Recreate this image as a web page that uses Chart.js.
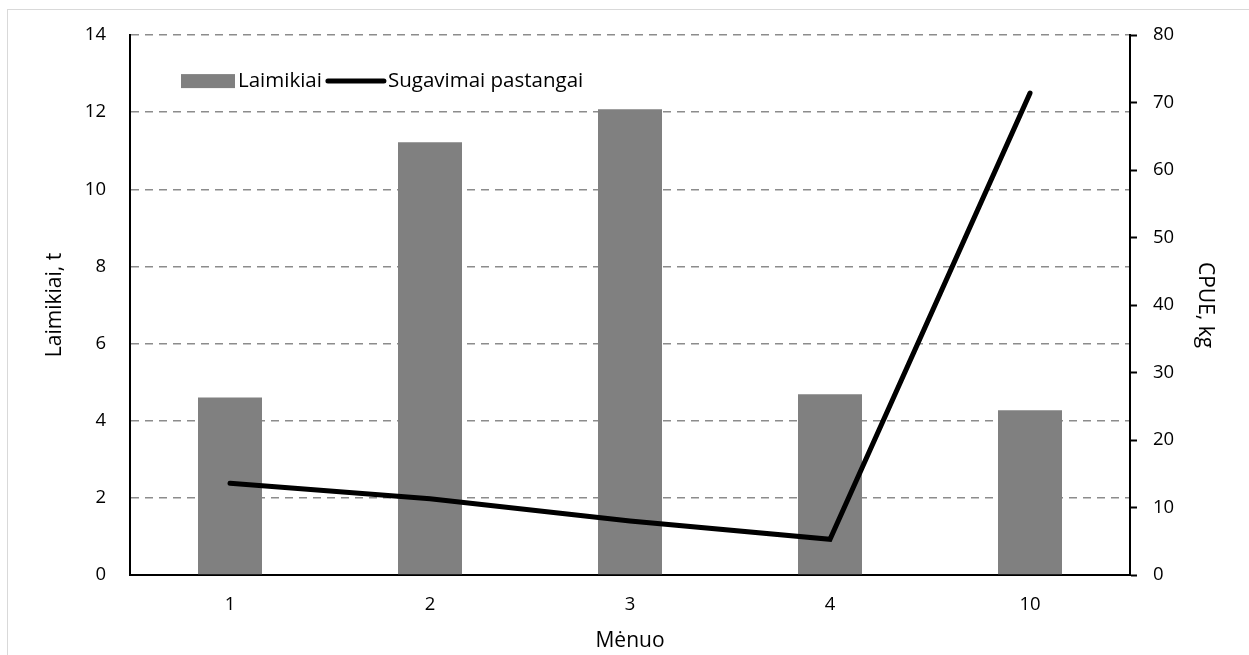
<!DOCTYPE html>
<html>
<head>
<meta charset="utf-8">
<script src="https://cdn.jsdelivr.net/npm/chart.js@4/dist/chart.umd.min.js"></script>
<style>
  html, body { margin: 0; padding: 0; background: #fff; }
  #wrap { width: 1249px; height: 655px; position: relative; }
</style>
</head>
<body>
<div id="wrap"><canvas id="chart"></canvas></div>
<script>
const MONTHS = ['1', '2', '3', '4', '10'];
const CATCHES = [4.6, 11.22, 12.08, 4.69, 4.27];
const CPUE = [13.6, 11.3, 8.0, 5.3, 71.4];
const LEFT_TICKS = [0, 2, 4, 6, 8, 10, 12, 14];
const RIGHT_TICKS = [0, 10, 20, 30, 40, 50, 60, 70, 80];

const FONT = '"Open Sans", "Noto Sans", sans-serif';
const TEXT_COLOR = '#000';
const TICK_SIZE = 18.5;
const TITLE_SIZE = 21;

// frame around the whole chart, and the legend drawn inside the plot area
const framePlugin = {
  id: 'frame',
  beforeDraw(chart) {
    const ctx = chart.ctx;
    ctx.save();
    ctx.strokeStyle = '#d9d9d9';
    ctx.lineWidth = 1;
    ctx.strokeRect(7.5, 9.5, 1300, 700);
    ctx.restore();
  },
  afterDraw(chart) {
    const ctx = chart.ctx;
    const area = chart.chartArea;
    const x0 = area.left + 51;
    const y0 = area.top + 46;
    ctx.save();
    ctx.font = '20.5px ' + FONT;
    ctx.textBaseline = 'middle';
    ctx.fillStyle = '#808080';
    ctx.fillRect(x0, y0 - 7, 54, 14);
    ctx.fillStyle = '#000';
    ctx.fillText('Laimikiai', x0 + 57, y0);
    const w = ctx.measureText('Laimikiai').width;
    const lx = x0 + 57 + w + 6;
    ctx.strokeStyle = '#000';
    ctx.lineWidth = 5;
    ctx.lineCap = 'round';
    ctx.beginPath();
    ctx.moveTo(lx, y0);
    ctx.lineTo(lx + 56, y0);
    ctx.stroke();
    ctx.fillText('Sugavimai pastangai', lx + 60, y0);
    ctx.restore();
  }
};

new Chart(document.querySelector('#chart'), {
  data: {
    labels: MONTHS,
    datasets: [
      {
        type: 'line',
        label: 'Sugavimai pastangai',
        data: CPUE,
        yAxisID: 'yRight',
        borderColor: '#000',
        borderWidth: 5,
        borderCapStyle: 'round',
        borderJoinStyle: 'miter',
        pointRadius: 0,
        tension: 0,
        order: 0,
      },
      {
        type: 'bar',
        label: 'Laimikiai',
        data: CATCHES,
        yAxisID: 'yLeft',
        backgroundColor: '#808080',
        categoryPercentage: 1,
        barPercentage: 0.32,
        order: 1,
      },
    ],
  },
  options: {
    responsive: true,
    maintainAspectRatio: false,
    animation: false,
    layout: { padding: { top: 35, left: 0, right: 0, bottom: 0 } },
    plugins: {
      legend: { display: false },
      tooltip: { enabled: false },
    },
    scales: {
      x: {
        grid: { display: false, drawTicks: false },
        border: { display: true, color: '#000', width: 2 },
        ticks: { color: TEXT_COLOR, font: { family: FONT, size: TICK_SIZE }, padding: 19 },
        title: {
          display: true,
          text: 'Mėnuo',
          color: TEXT_COLOR,
          font: { family: FONT, size: TITLE_SIZE },
          padding: { top: 0, bottom: 1 },
        },
        afterFit(scale) { scale.height = 80; },
      },
      yLeft: {
        position: 'left',
        min: 0,
        max: 14,
        afterBuildTicks(scale) { scale.ticks = LEFT_TICKS.map((v) => ({ value: v })); },
        grid: {
          color: '#8c8c8c',
          lineWidth: 1.5,
          drawTicks: false,
        },
        border: { display: true, color: '#000', width: 2, dash: [8, 6] },
        ticks: { color: TEXT_COLOR, font: { family: FONT, size: TICK_SIZE }, padding: 24 },
        title: {
          display: true,
          text: 'Laimikiai, t',
          color: TEXT_COLOR,
          font: { family: FONT, size: TITLE_SIZE },
          padding: { top: 42, bottom: 0 },
        },
        afterFit(scale) { scale.width = 130; },
      },
      yRight: {
        position: 'right',
        min: 0,
        max: 80,
        afterBuildTicks(scale) { scale.ticks = RIGHT_TICKS.map((v) => ({ value: v })); },
        grid: {
          drawOnChartArea: false,
          drawTicks: true,
          tickLength: 7,
          tickWidth: 2,
          tickColor: '#000',
        },
        border: { display: true, color: '#000', width: 2 },
        ticks: { color: TEXT_COLOR, font: { family: FONT, size: TICK_SIZE }, padding: 16 },
        title: {
          display: true,
          text: 'CPUE, kg',
          color: TEXT_COLOR,
          font: { family: FONT, size: TITLE_SIZE },
          padding: { top: 31, bottom: 0 },
        },
        afterFit(scale) { scale.width = 119; },
      },
    },
  },
  plugins: [framePlugin],
});
</script>
</body>
</html>
